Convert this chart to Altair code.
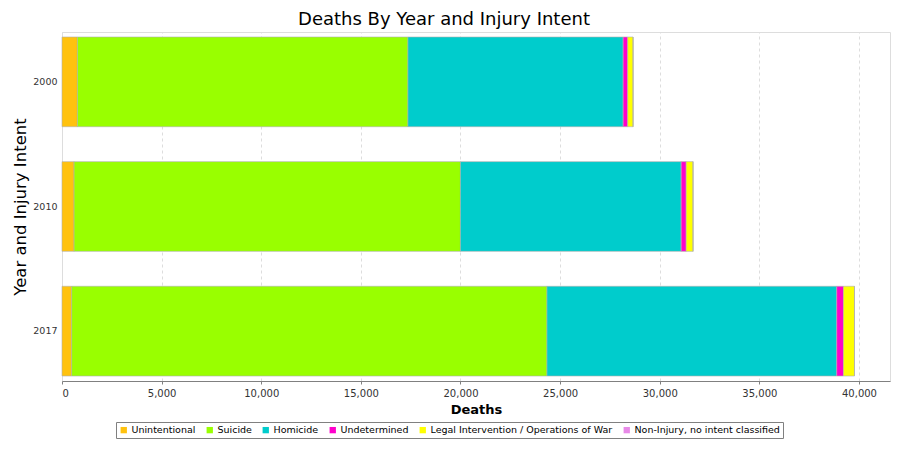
import altair as alt
import pandas as pd

years = ["2000", "2010", "2017"]
intents = ["Unintentional", "Suicide", "Homicide", "Undetermined",
           "Legal Intervention / Operations of War", "Non-Injury, no intent classified"]
colors = ["#FFC20E", "#99FF00", "#00CCCC", "#FF00CC", "#FFFF00", "#E88AE8"]
unintentional = [776, 606, 486]
suicide = [16586, 19392, 23854]
homicide = [10801, 11078, 14542]
undetermined = [230, 252, 338]
legal = [270, 344, 553]
noninjury = [0, 0, 0]
x_ticks = [0, 5000, 10000, 15000, 20000, 25000, 30000, 35000, 40000]

series = [unintentional, suicide, homicide, undetermined, legal, noninjury]
rows = []
for k, (name, vals) in enumerate(zip(intents, series)):
    for y, v in zip(years, vals):
        rows.append({"Year": y, "Intent": name, "Deaths": v, "ord": k})
df = pd.DataFrame(rows)

chart = alt.Chart(df).mark_bar(stroke="#b0b0b0", strokeWidth=0.6).encode(
    x=alt.X("Deaths:Q", stack="zero",
            scale=alt.Scale(domain=[0, 41556], nice=False, zero=True),
            axis=alt.Axis(title="Deaths", values=x_ticks, format=",d",
                          grid=True, gridDash=[3, 3], gridColor="#dddddd",
                          domainColor="#808080", tickColor="#808080", tickSize=3,
                          labelFont="DejaVu Sans", labelFontSize=10, labelColor="#333333",
                          titleFont="DejaVu Sans", titleFontSize=13, titleFontWeight="bold",
                          titleColor="#000000", titlePadding=5, labelPadding=4)),
    y=alt.Y("Year:N", sort=years,
            scale=alt.Scale(paddingInner=0.28, paddingOuter=0.04),
            axis=alt.Axis(title="Year and Injury Intent", ticks=False, domain=False,
                          labelFont="DejaVu Sans", labelFontSize=9.5, labelColor="#333333",
                          labelPadding=5,
                          titleFont="DejaVu Sans", titleFontSize=16.5, titleFontWeight="normal",
                          titleColor="#000000", titlePadding=4)),
    color=alt.Color("Intent:N", scale=alt.Scale(domain=intents, range=colors),
                    legend=alt.Legend(title=None, orient="none", legendX=54, legendY=390,
                                      direction="horizontal", symbolType="square",
                                      symbolSize=40, symbolStrokeWidth=0,
                                      labelFont="DejaVu Sans", labelFontSize=9.5,
                                      labelLimit=400, labelColor="#000000", columnPadding=9,
                                      labelOffset=3, strokeColor="#808080",
                                      padding=3, fillColor="#ffffff")),
    order=alt.Order("ord:Q", sort="ascending"),
).properties(
    width=828, height=349,
    title=alt.TitleParams("Deaths By Year and Injury Intent", font="DejaVu Sans",
                          fontSize=18, fontWeight="normal", color="#000000",
                          anchor="middle", offset=3, dx=-32),
    autosize=alt.AutoSizeParams(type="none"),
    padding={"left": 54, "top": 24, "right": 2, "bottom": 58},
).configure_view(stroke="#808080", strokeWidth=1).configure(background="#ffffff")

chart.save("out.html", embed_options={"renderer": "svg", "actions": False})
